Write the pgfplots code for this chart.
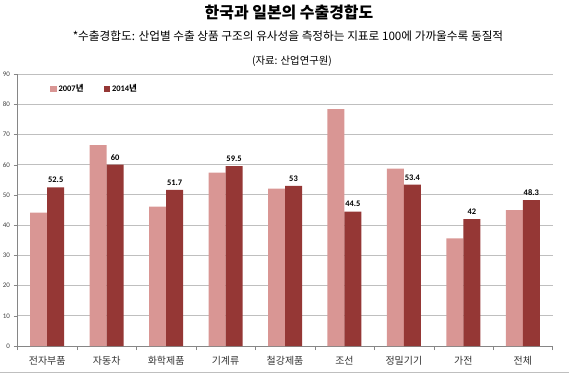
\documentclass[border=0pt]{standalone}
\usepackage{pgfplots}
\pgfplotsset{compat=1.18}
\usepackage{fontspec}
\setmainfont{Carlito}
\newfontfamily\kr{Noto Sans CJK KR}
\definecolor{lightbar}{HTML}{D99694}
\definecolor{darkbar}{HTML}{953735}
\definecolor{gridc}{HTML}{BFBFBF}
\definecolor{axc}{HTML}{868686}
\begin{document}
\begin{tikzpicture}[x=1bp,y=1bp]
\path[use as bounding box] (0,0) rectangle (569,375);
\draw[gridc, line width=1.5bp] (0,2.5) -- (569,2.5);
\node[font=\kr\bfseries\fontsize{16}{18}\selectfont] at (289,362.5) {한국과 일본의 수출경합도};
\node[font=\kr\fontsize{11.7}{13}\selectfont] at (288,338.5) {*수출경합도: 산업별 수출 상품 구조의 유사성을 측정하는 지표로 100에 가까울수록 동질적};
\node[font=\kr\fontsize{10.4}{12}\selectfont] at (292,314) {(자료: 산업연구원)};
\begin{axis}[
  at={(17.5bp,29bp)}, anchor=south west, scale only axis,
  width=535bp, height=272bp,
  xmin=-0.5, xmax=8.5, ymin=0, ymax=90,
  ybar, bar width=17bp,
  ytick={0,10,...,90},
  ymajorgrids, grid style={gridc, line width=0.8bp},
  axis x line*=bottom, axis y line*=left,
  axis line style={axc, line width=0.6bp},
  xtick={0,...,8},
  xticklabels={전자부품,자동차,화학제품,기계류,철강제품,조선,정밀기기,가전,전체},
  xticklabel style={font=\kr\fontsize{10}{11}\selectfont, text=black!80, yshift=-3bp},
  major x tick style={draw=none},
  minor xtick={-0.5,0.5,...,8.5},
  minor x tick style={axc},
  minor tick length=4bp,
  y tick style={axc}, major tick length=4bp,
  tick align=outside,
  yticklabel style={font=\fontsize{7}{8}\selectfont, text=black!75},
  /pgf/number format/assume math mode=true,
  enlarge x limits=false,
  legend style={at={(0.055,0.945)}, anchor=west, draw=none, fill=none,
    legend columns=2, font=\bfseries\fontsize{8.5}{10}\selectfont,
    /tikz/every even column/.append style={column sep=18bp}},
  legend image code/.code={\fill[#1] (0bp,-3bp) rectangle (6.5bp,3bp);},
]
\addplot[fill=lightbar, draw=none, bar shift=-8.5bp] coordinates {
(0,44.1) (1,66.5) (2,46.1) (3,57.4) (4,52.1) (5,78.4) (6,58.7) (7,35.6) (8,45.0)};
\addlegendentry{2007{\kr 년}}
\addplot[fill=darkbar, draw=none, bar shift=8.5bp,
  nodes near coords, nodes near coords style={font=\bfseries\fontsize{8.5}{10}\selectfont, text=black, yshift=1bp},
  point meta=explicit symbolic] coordinates {
(0,52.5)[52.5] (1,60)[60] (2,51.7)[51.7] (3,59.5)[59.5] (4,53)[53] (5,44.5)[44.5] (6,53.4)[53.4] (7,42)[42] (8,48.3)[48.3]};
\addlegendentry{2014{\kr 년}}
\end{axis}
\end{tikzpicture}
\end{document}
